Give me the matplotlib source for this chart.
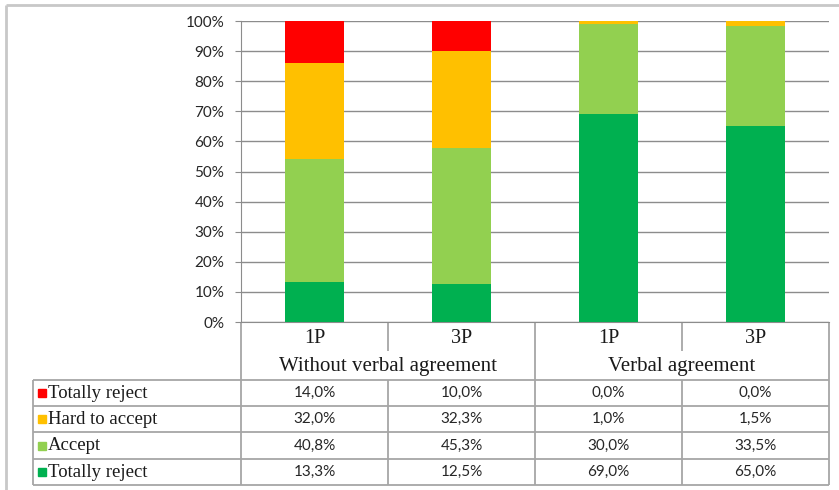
import numpy as np
import matplotlib
matplotlib.use("Agg")
import matplotlib.pyplot as plt
from matplotlib.patches import Rectangle

# data
groups = ["Without verbal agreement", "Verbal agreement"]
cats = ["1P", "3P", "1P", "3P"]
series = ["Totally reject", "Accept", "Hard to accept", "Totally reject"]   # bottom -> top
colors = ["#00B050", "#92D050", "#FFC000", "#FF0000"]
totally_reject_low = [13.3, 12.5, 69.0, 65.0]
accept = [40.8, 45.3, 30.0, 33.5]
hard_to_accept = [32.0, 32.3, 1.0, 1.5]
totally_reject_top = [14.0, 10.0, 0.0, 0.0]
values = [totally_reject_low, accept, hard_to_accept, totally_reject_top]

W, H = 839, 490
fig = plt.figure(figsize=(W / 100, H / 100), dpi=100)

# plot area in pixels
x0, x1, ytop, ybot = 241, 829, 21, 322
ax = fig.add_axes([x0 / W, 1 - ybot / H, (x1 - x0) / W, (ybot - ytop) / H])

grid_c = "#8C8C8C"
line_c = "#A6A6A6"
num_font = "Lato"
lab_font = "Liberation Serif"

x = np.arange(len(cats))
bottom = np.zeros(len(cats))
for vals, c in zip(values, colors):
    ax.bar(x, vals, 0.4, bottom=bottom, color=c, zorder=3)
    bottom += np.array(vals)

ax.set_xlim(-0.5, len(cats) - 0.5)
ax.set_ylim(0, 100)
ax.set_yticks(np.arange(0, 101, 10))
ax.set_yticklabels([f"{v}%" for v in range(0, 101, 10)], fontfamily=num_font, fontsize=11, color="#262626")
ax.set_xticks([])
ax.yaxis.grid(True, color=grid_c, lw=1, zorder=0)
ax.tick_params(axis="y", length=4, color=grid_c, pad=8)
for s in ["top", "right"]:
    ax.spines[s].set_visible(False)
ax.spines["left"].set_color(grid_c)
ax.spines["bottom"].set_color(grid_c)

# overlay in pixel coords for the data table
ov = fig.add_axes([0, 0, 1, 1], zorder=-1)
ov.set_xlim(0, W)
ov.set_ylim(H, 0)
ov.axis("off")

def hl(y, xa, xb, c=line_c, lw=1.3):
    ov.plot([xa, xb], [y, y], color=c, lw=lw, solid_capstyle="butt")

def vl(xv, ya, yb, c=line_c, lw=1.3):
    ov.plot([xv, xv], [ya, yb], color=c, lw=lw, solid_capstyle="butt")

# outer frame
hl(5, 6, W, c="#C8C8C8", lw=2)
vl(6, 5, H, c="#C8C8C8", lw=2)

colw = (x1 - x0) / len(cats)
rows = [380, 406, 432, 459, 485]
for y in rows:
    hl(y, 33, x1)
vl(33, rows[0], rows[-1])
vl(x0, ybot, rows[-1])
vl(x1, ybot, rows[-1])
for i in range(1, len(cats)):
    xv = x0 + colw * i
    if i % 2 == 0:
        vl(xv, ybot, rows[-1])
    else:
        vl(xv, ybot, 351)
        vl(xv, rows[0], rows[-1])

for i, c in enumerate(cats):
    ov.text(x0 + colw * (i + 0.5), 338, c, ha="center", va="center",
            fontfamily=lab_font, fontsize=14.5, color="#1a1a1a")
for g, gname in enumerate(groups):
    ov.text(x0 + colw * (2 * g + 1), 366, gname, ha="center", va="center",
            fontfamily=lab_font, fontsize=15, color="#1a1a1a")

# table rows: top series first
for r, idx in enumerate(range(len(series) - 1, -1, -1)):
    yc = (rows[r] + rows[r + 1]) / 2
    ov.add_patch(Rectangle((38, yc - 4), 8, 8, color=colors[idx]))
    ov.text(48, yc, series[idx], ha="left", va="center",
            fontfamily=lab_font, fontsize=13.5, color="#1a1a1a")
    for i, v in enumerate(values[idx]):
        ov.text(x0 + colw * (i + 0.5), yc, f"{v:.1f}%".replace(".", ","),
                ha="center", va="center", fontfamily=num_font, fontsize=11, color="#262626")

fig.savefig("out.png", dpi=100)
